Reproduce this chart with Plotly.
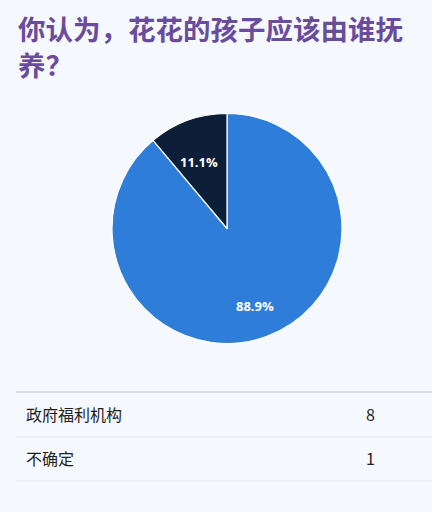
import math
import plotly.graph_objects as go

# datos de la encuesta
title_text = "你认为，花花的孩子应该由谁抚<br>养？"
answers = ["政府福利机构", "不确定"]
counts = [8, 1]
slice_colors = ["#2d7dd9", "#0d1f38"]

W, H = 432, 512
BG = "#f5f8fc"

fig = go.Figure()

pie_x = [112 / W, 342 / W]
pie_y = [1 - 344 / H, 1 - 113 / H]

fig.add_trace(go.Pie(
    labels=answers,
    values=counts,
    sort=False,
    direction="clockwise",
    rotation=0,
    marker=dict(colors=slice_colors, line=dict(color="white", width=1.2)),
    textinfo="none",
    domain=dict(x=pie_x, y=pie_y),
    showlegend=False,
    hoverinfo="label+value+percent",
))

# etiquetas de porcentaje sobre el angulo medio de cada rebanada
total = sum(counts)
cx, cy = sum(pie_x) / 2, sum(pie_y) / 2
r_px = (pie_x[1] - pie_x[0]) * W / 2
acc = 0
for v in counts:
    mid = (acc + v / 2) / total * 2 * math.pi
    acc += v
    dx = 0.72 * r_px * math.sin(mid) / W
    dy = 0.72 * r_px * math.cos(mid) / H
    fig.add_annotation(
        x=cx + dx, y=cy + dy, xref="paper", yref="paper",
        text="<b>%.1f%%</b>" % (v / total * 100), showarrow=False,
        font=dict(color="white", size=13, family="Open Sans"),
    )

# tabla con solo lineas horizontales
fig.add_trace(go.Table(
    domain=dict(x=[18 / W, 1], y=[1 - 474 / H, 1 - 385 / H]),
    columnwidth=[340, 74],
    header=dict(values=[], height=0, line=dict(width=0), fill=dict(color=BG)),
    cells=dict(
        values=[answers, counts],
        height=44,
        align=["left", "left"],
        fill=dict(color=BG),
        line=dict(color=BG, width=0),
        font=dict(family="Noto Sans CJK SC", size=16, color="#1f1f1f"),
    ),
))

row_lines = [(392, "#d3d7dc", 1.5), (437, "#e4e8ec", 1), (481, "#e4e8ec", 1)]
for y, c, w in row_lines:
    fig.add_shape(type="line", xref="paper", yref="paper",
                  x0=16 / W, x1=1, y0=1 - y / H, y1=1 - y / H,
                  line=dict(color=c, width=w))

fig.add_annotation(
    text="<b>" + title_text + "</b>",
    x=16 / W, y=1 - 6 / H, xref="paper", yref="paper",
    xanchor="left", yanchor="top", align="left", showarrow=False,
    font=dict(family="Noto Sans CJK SC", size=27.5, color="#6a4c9c"),
)

fig.update_layout(
    width=W,
    height=H,
    margin=dict(l=0, r=0, t=0, b=0),
    paper_bgcolor=BG,
    plot_bgcolor=BG,
)

fig.write_html(
    "out.html",
    config={"displayModeBar": False},
    post_script="document.body.style.margin='0';document.body.style.background='%s';" % BG,
)
